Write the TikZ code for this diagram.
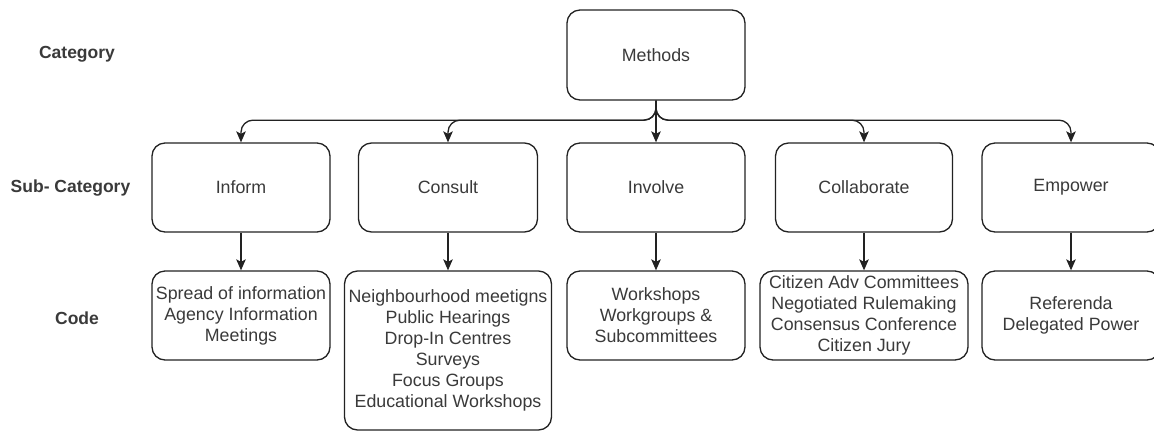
\documentclass[tikz,border=0pt]{standalone}
\usepackage{fontspec}
\setmainfont{Liberation Sans}
\usetikzlibrary{arrows.meta}
\definecolor{ink}{HTML}{222222}
\definecolor{txt}{HTML}{3A3A3A}
\begin{document}
\begin{tikzpicture}[x=1pt,y=-1pt,
  box/.style={draw=ink,line width=1.3pt,rounded corners=13pt,inner sep=0pt,
    align=center,text=txt,font=\fontsize{17.8}{21}\selectfont},
  lvl/.style={text=txt,font=\fontsize{17.5}{21}\selectfont\bfseries,inner sep=0pt},
  link/.style={draw=ink,line width=1.3pt,rounded corners=12pt,
    -{Stealth[length=11pt,width=9.5pt,inset=2.5pt]}}]
\clip (0,0) rectangle (1154,432);
\fill[white] (0,0) rectangle (1154,432);

% row labels
\node[lvl] (lcat) at (77,54) {Category};
\node[lvl] (lsub) at (70.5,188) {Sub- Category};
\node[lvl] (lcode) at (77,318) {Code};

% top level
\node[box,minimum width=178pt,minimum height=90pt] (methods) at (656,55) {Methods};

% sub-categories
\begin{scope}[every node/.append style={minimum height=89pt}]
\node[box,minimum width=178pt] (inform) at (241,187.5) {Inform};
\node[box,minimum width=179pt] (consult) at (448,187.5) {Consult};
\node[box,minimum width=178pt] (involve) at (656,187.5) {Involve};
\node[box,minimum width=177pt] (collab) at (864,187.5) {Collaborate};
\node[box,minimum width=178pt] (empower) at (1071,187.5) {Empower};
\end{scope}

% codes
\node[box,minimum width=178pt,minimum height=89pt] (cinform) at (241,315.5)
  {Spread of information\\Agency Information\\Meetings};
\node[box,minimum width=207pt,minimum height=159pt] (cconsult) at (448,350.5)
  {Neighbourhood meetigns\\Public Hearings\\Drop-In Centres\\Surveys\\Focus Groups\\Educational Workshops};
\node[box,minimum width=178pt,minimum height=89pt] (cinvolve) at (656,315.5)
  {Workshops\\Workgroups \&\\Subcommittees};
\node[box,minimum width=208pt,minimum height=89pt] (ccollab) at (864,315.5)
  {Citizen Adv Committees\\Negotiated Rulemaking\\Consensus Conference\\Citizen Jury};
\node[box,minimum width=178pt,minimum height=89pt] (cempower) at (1071,315.5)
  {Referenda\\Delegated Power};

% bus from the top box to each sub-category
\foreach \c in {inform,consult,collab,empower}
  \draw[link] (methods.south) -- ++(0,19.5) -| (\c.north);
\draw[link] (methods.south) -- (involve.north);

% sub-category to code
\draw[link] (inform.south) -- (cinform.north);
\draw[link] (consult.south) -- (cconsult.north);
\draw[link] (involve.south) -- (cinvolve.north);
\draw[link] (collab.south) -- (ccollab.north);
\draw[link] (empower.south) -- (cempower.north);
\end{tikzpicture}
\end{document}
